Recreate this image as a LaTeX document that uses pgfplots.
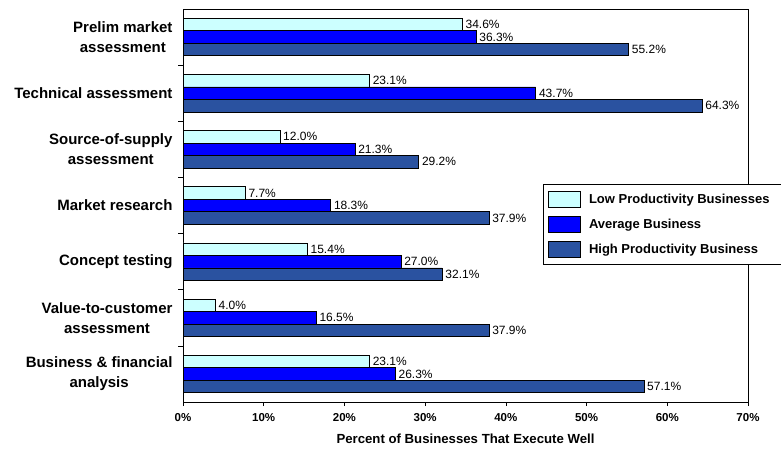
\documentclass[border=0pt]{standalone}
\usepackage{pgfplots}
\pgfplotsset{compat=1.18}
\usepackage{fontspec}
\setmainfont{Liberation Sans}
\definecolor{lowc}{HTML}{CCFFFF}
\definecolor{avgc}{HTML}{0000FF}
\definecolor{highc}{HTML}{2A52A0}
\pgfplotsset{leg/.style={legend image code/.code={\draw[##1, line width=0.7pt] (0pt,-8pt) rectangle (32pt,8pt);}}}
\begin{document}
\begin{tikzpicture}
\begin{axis}[name=ax, scale only axis, width=565pt, height=393pt,
 xmin=0, xmax=70, ymin=-0.5, ymax=6.5, y dir=reverse,
 xbar, bar width=12.5pt,
 xtick={0,10,...,70}, xticklabel={\pgfmathprintnumber{\tick}\%},
 xticklabel style={font=\fontsize{11.5}{13}\selectfont\bfseries, yshift=-4pt},
 /pgf/number format/assume math mode=true,
 ytick={0,...,6},
 yticklabels={{Prelim market\\assessment},{Technical assessment},{Source-of-supply\\assessment},{Market research},{Concept testing},{Value-to-customer\\assessment},{Business \& financial\\analysis}},
 yticklabel style={align=center, font=\fontsize{15}{20}\selectfont\bfseries, xshift=-3pt},
 major y tick style={draw=none},
 minor ytick={0.5,1.5,...,5.5},
 tick align=outside, major tick length=4pt, minor tick length=5pt,
 xtick pos=bottom, ytick pos=left,
 tick style={black, line width=0.7pt},
 xlabel={Percent of Businesses That Execute Well},
 xlabel style={font=\fontsize{13.2}{16}\selectfont\bfseries, yshift=-5pt},
 axis line style={line width=0.8pt},
 point meta=x,
 nodes near coords={\pgfmathprintnumber[fixed,fixed zerofill,precision=1]{\pgfplotspointmeta}\%},
 nodes near coords style={font=\fontsize{12}{13}\selectfont, black, inner xsep=3pt},
 legend style={at={(0.637,0.555)}, anchor=north west, draw=black, line width=0.8pt,
   font=\fontsize{13}{15}\selectfont\bfseries, row sep=8pt, inner xsep=5pt, inner ysep=7pt,
   nodes={inner xsep=8pt}},
 legend cell align=left,
]
\addplot[leg, draw=black, line width=0.7pt, fill=lowc, bar shift=12.5pt] coordinates {(34.6,0) (23.1,1) (12.0,2) (7.7,3) (15.4,4) (4.0,5) (23.1,6)};
\addplot[leg, draw=black, line width=0.7pt, fill=avgc, bar shift=0pt] coordinates {(36.3,0) (43.7,1) (21.3,2) (18.3,3) (27.0,4) (16.5,5) (26.3,6)};
\addplot[leg, draw=black, line width=0.7pt, fill=highc, bar shift=-12.5pt] coordinates {(55.2,0) (64.3,1) (29.2,2) (37.9,3) (32.1,4) (37.9,5) (57.1,6)};
\legend{Low Productivity Businesses, Average Business, High Productivity Business}
\end{axis}
\pgfresetboundingbox
\path ([xshift=-183pt,yshift=-46pt]ax.south west) rectangle ([xshift=33pt,yshift=9pt]ax.north east);
\end{tikzpicture}
\end{document}
